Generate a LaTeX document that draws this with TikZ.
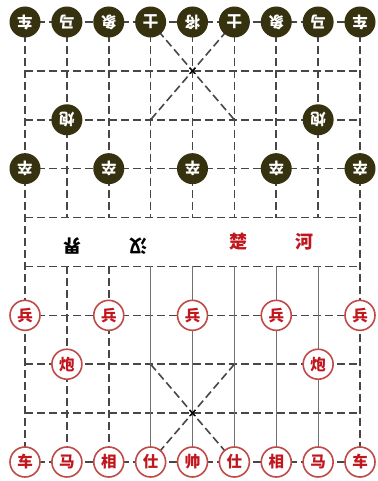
\documentclass[tikz,border=0pt]{standalone}
\usepackage{fontspec}
\newfontfamily\cjk{Noto Sans CJK SC}
\definecolor{blk}{HTML}{36310F}
\definecolor{redtxt}{HTML}{C0161E}
\definecolor{redring}{HTML}{C04A48}
\definecolor{gridc}{HTML}{474747}
\definecolor{solidc}{HTML}{707070}
\tikzset{
  gl/.style={draw=gridc, line width=1.6pt, dash pattern=on 8pt off 4pt},
  sl/.style={draw=solidc, line width=1pt},
  piecefont/.style={font=\cjk\bfseries\fontsize{15.5}{15.5}\selectfont},
  bp/.style={circle, fill=blk, minimum size=31pt, inner sep=0pt, text=white, piecefont, rotate=180},
  rp/.style={circle, draw=redring, line width=1.6pt, fill=white, minimum size=30pt, inner sep=0pt, text=redtxt, piecefont},
  rivb/.style={font=\cjk\bfseries\fontsize{18}{18}\selectfont, text=black, rotate=180},
  rivr/.style={font=\cjk\bfseries\fontsize{18}{18}\selectfont, text=redtxt}
}
\begin{document}
\begin{tikzpicture}[x=41.875pt,y=-48.889pt]
\fill[white] ([shift={(-25pt,22pt)}]0,0) rectangle ([shift={(17pt,-19pt)}]8,9);
\useasboundingbox ([shift={(-25pt,22pt)}]0,0) rectangle ([shift={(17pt,-19pt)}]8,9);
% horizontal lines
\foreach \r in {0,...,9} \draw[gl] (0,\r) -- (8,\r);
% outer verticals
\draw[gl] (0,0) -- (0,9);
\draw[gl] (8,0) -- (8,9);
% inner verticals, top half
\foreach \c in {1,...,7} \draw[gl] (\c,0) -- (\c,4);
% inner verticals, bottom half
\foreach \c in {1,2} \draw[gl] (\c,5) -- (\c,9);
\foreach \c in {3,...,7} \draw[sl] (\c,5) -- (\c,9);
% palaces
\draw[gl] (3,0) -- (5,2);
\draw[gl] (5,0) -- (3,2);
\draw[gl] (3,7) -- (5,9);
\draw[gl] (5,7) -- (3,9);
% centre marks
\foreach \y in {1,8} {
  \draw[line width=1pt] ([shift={(-3pt,-3pt)}]4,\y) -- ([shift={(3pt,3pt)}]4,\y);
  \draw[line width=1pt] ([shift={(-3pt,3pt)}]4,\y) -- ([shift={(3pt,-3pt)}]4,\y);
}
% river text
\node[rivb] (jie) at (1.13,4.58) {界};
\node[rivb] (han) at (2.7,4.58) {汉};
\node[rivr] (chu) at (5.11,4.5) {楚};
\node[rivr] (he) at (6.67,4.5) {河};
% black pieces
\foreach \t [count=\i from 0] in {车,马,象,士,将,士,象,马,车}
  \node[bp] (b0\i) at (\i,0) {\t};
\node[bp] (bc1) at (1,2) {炮};
\node[bp] (bc2) at (7,2) {炮};
\foreach \c in {0,2,4,6,8}
  \node[bp] (bz\c) at (\c,3) {卒};
% red pieces
\foreach \c in {0,2,4,6,8}
  \node[rp] (rb\c) at (\c,6) {兵};
\node[rp] (rc1) at (1,7) {炮};
\node[rp] (rc2) at (7,7) {炮};
\foreach \t [count=\i from 0] in {车,马,相,仕,帅,仕,相,马,车}
  \node[rp] (r9\i) at (\i,9) {\t};
\end{tikzpicture}
\end{document}
